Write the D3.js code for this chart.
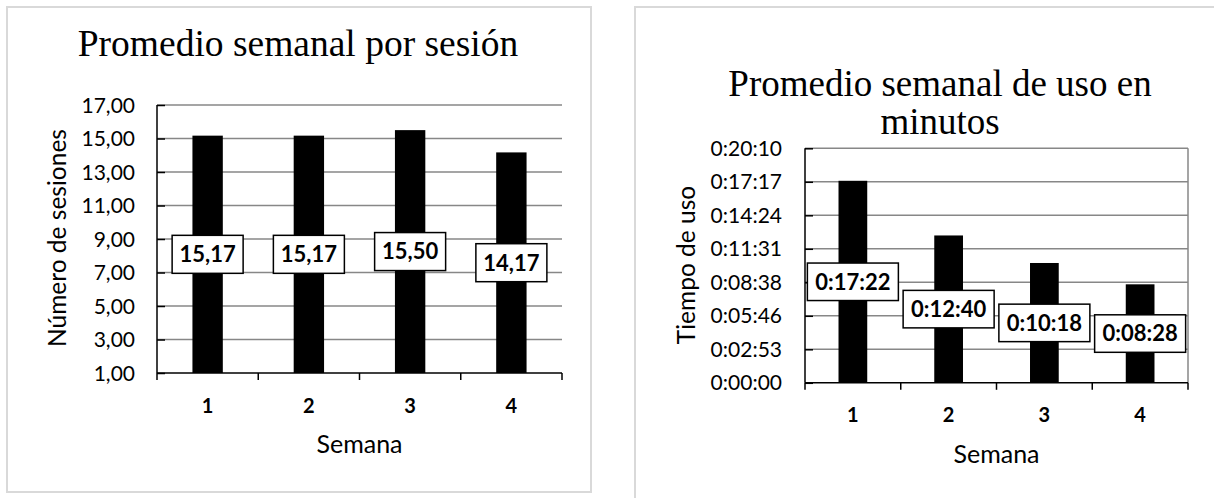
<!DOCTYPE html>
<html>
<head>
<meta charset="utf-8">
<script src="https://cdn.jsdelivr.net/npm/d3@7/dist/d3.min.js"></script>
<style>
  html, body { margin: 0; padding: 0; background: #ffffff; }
  svg { display: block; }
</style>
</head>
<body>
<svg id="chart" width="1214" height="498"></svg>
<script>
// ---------- DATA ----------
const weeks = ["1", "2", "3", "4"];

// Chart 1: average sessions per week
const sessionsTitle = "Promedio semanal por sesión";
const sessionsValues = [15.17, 15.17, 15.50, 14.17];
const sessionsTicks = [1, 3, 5, 7, 9, 11, 13, 15, 17];
const sessionsYLabel = "Número de sesiones";

// Chart 2: average weekly usage time (h:mm:ss)
const usageTitleLines = ["Promedio semanal de uso en", "minutos"];
const usageValues = ["0:17:22", "0:12:40", "0:10:18", "0:08:28"];
const usageTickLabels = ["0:00:00", "0:02:53", "0:05:46", "0:08:38", "0:11:31", "0:14:24", "0:17:17", "0:20:10"];
const usageTickSeconds = [0, 172.8, 345.6, 518.4, 691.2, 864, 1036.8, 1209.6];
const usageYLabel = "Tiempo de uso";

const xLabel = "Semana";

// ---------- HELPERS ----------
const toSec = s => { const p = s.split(":").map(Number); return p[0] * 3600 + p[1] * 60 + p[2]; };
const commaFmt = v => d3.format(".2f")(v).replace(".", ",");

const SANS = "Lato, 'Open Sans', sans-serif";
const SERIF = "'Liberation Serif', 'Times New Roman', serif";
const GRID = "#878787";

const svg = d3.select("#chart");

function drawChart(cfg) {
  const g = svg.append("g");
  // outer frame
  g.append("rect")
    .attr("x", cfg.frame[0]).attr("y", cfg.frame[1])
    .attr("width", cfg.frame[2]).attr("height", cfg.frame[3])
    .attr("fill", "#fff").attr("stroke", "#d9d9d9").attr("stroke-width", 2);

  // title
  cfg.titleLines.forEach((t, i) => {
    g.append("text")
      .attr("x", cfg.titleX).attr("y", cfg.titleY + i * cfg.titleLH)
      .attr("text-anchor", "middle")
      .attr("font-family", SERIF).attr("font-size", cfg.titleSize)
      .attr("fill", "#000").text(t);
  });

  const [x0, x1, yTop, yBot] = cfg.plot;
  const x = d3.scaleBand().domain(weeks).range([x0, x1]).paddingInner(0.7).paddingOuter(0.35);
  const y = d3.scaleLinear().domain(cfg.yDomain).range([yBot, yTop]);

  // gridlines
  g.append("g").selectAll("line").data(cfg.ticks.slice(1)).join("line")
    .attr("x1", x0).attr("x2", x1)
    .attr("y1", d => y(d)).attr("y2", d => y(d))
    .attr("stroke", GRID).attr("stroke-width", 1.5);

  if (cfg.rightBorder) {
    g.append("line").attr("x1", x1).attr("x2", x1).attr("y1", yTop).attr("y2", yBot)
      .attr("stroke", GRID).attr("stroke-width", 1.5);
  }

  // bars
  g.append("g").selectAll("rect").data(cfg.values).join("rect")
    .attr("x", (d, i) => x(weeks[i]))
    .attr("width", x.bandwidth())
    .attr("y", d => y(d))
    .attr("height", d => y(cfg.yDomain[0]) - y(d))
    .attr("fill", "#000");

  // y axis (inside ticks)
  const yAxis = d3.axisRight(y).tickValues(cfg.ticks).tickSize(8).tickFormat("");
  const ya = g.append("g").attr("transform", `translate(${x0},0)`).call(yAxis);
  ya.select(".domain").attr("stroke", "#000").attr("stroke-width", 1.5).attr("d", `M0,${yTop}V${yBot}`);
  ya.selectAll(".tick line").attr("stroke", "#000").attr("stroke-width", 1.5);

  // y tick labels
  g.append("g").selectAll("text").data(cfg.ticks).join("text")
    .attr("x", x0 - cfg.tickGap).attr("y", d => y(d)).attr("dy", "0.36em")
    .attr("text-anchor", "end")
    .attr("font-family", SANS).attr("font-size", cfg.tickSize).attr("fill", "#000")
    .text((d, i) => cfg.tickFormat(d, i));

  // x axis
  const xa = g.append("g");
  xa.append("line").attr("x1", x0).attr("x2", x1).attr("y1", yBot).attr("y2", yBot)
    .attr("stroke", "#000").attr("stroke-width", 1.5);
  const bounds = weeks.map(w => x(w) + x.bandwidth() / 2 - x.step() / 2).concat([x1]);
  xa.selectAll("line.t").data(bounds).join("line").attr("class", "t")
    .attr("x1", d => d).attr("x2", d => d).attr("y1", yBot).attr("y2", yBot + 7)
    .attr("stroke", "#000").attr("stroke-width", 1.5);
  xa.selectAll("text").data(weeks).join("text")
    .attr("x", d => x(d) + x.bandwidth() / 2).attr("y", cfg.catY)
    .attr("text-anchor", "middle")
    .attr("font-family", SANS).attr("font-weight", "bold").attr("font-size", 20)
    .attr("fill", "#000").text(d => d);

  // x title
  g.append("text").attr("x", (x0 + x1) / 2).attr("y", cfg.xTitleY)
    .attr("text-anchor", "middle").attr("font-family", SANS).attr("font-size", 25)
    .attr("fill", "#000").text(xLabel);

  // y title
  g.append("text")
    .attr("transform", `translate(${cfg.yTitlePos[0]},${cfg.yTitlePos[1]}) rotate(-90)`)
    .attr("text-anchor", "middle").attr("dy", "0.35em")
    .attr("font-family", SANS).attr("font-size", 24.5).attr("fill", "#000")
    .text(cfg.yLabel);

  // data labels (inside center)
  const lab = g.append("g").selectAll("g").data(cfg.values).join("g")
    .attr("transform", (d, i) => `translate(${x(weeks[i]) + x.bandwidth() / 2},${y((d + cfg.yDomain[0]) / 2)})`);
  lab.append("rect")
    .attr("x", -cfg.boxW / 2).attr("y", -cfg.boxH / 2)
    .attr("width", cfg.boxW).attr("height", cfg.boxH)
    .attr("fill", "#fff").attr("stroke", "#000").attr("stroke-width", 1.5);
  lab.append("text").attr("text-anchor", "middle").attr("dy", "0.36em")
    .attr("font-family", SANS).attr("font-weight", "bold").attr("font-size", 22)
    .attr("fill", "#000").text((d, i) => cfg.labels[i]);
}

drawChart({
  frame: [7, 7, 584, 485],
  titleLines: [sessionsTitle], titleX: 298, titleY: 56, titleLH: 0, titleSize: 37.5,
  plot: [157, 562, 105, 373],
  yDomain: [1, 17],
  ticks: sessionsTicks,
  tickFormat: d => commaFmt(d),
  tickGap: 22, tickSize: 21,
  values: sessionsValues,
  labels: sessionsValues.map(commaFmt),
  boxW: 71, boxH: 38,
  catY: 413, xTitleY: 453,
  yTitlePos: [57, 238], yLabel: sessionsYLabel,
  rightBorder: false
});

const usageSec = usageValues.map(toSec);
drawChart({
  frame: [635, 7, 600, 500],
  titleLines: usageTitleLines, titleX: 940, titleY: 96, titleLH: 38, titleSize: 37,
  plot: [805, 1188, 148.3, 382.8],
  yDomain: [0, usageTickSeconds[usageTickSeconds.length - 1]],
  ticks: usageTickSeconds,
  tickFormat: (d, i) => usageTickLabels[i],
  tickGap: 23, tickSize: 21,
  values: usageSec,
  labels: usageValues,
  boxW: 91, boxH: 37.5,
  catY: 422, xTitleY: 463,
  yTitlePos: [686, 265], yLabel: usageYLabel,
  rightBorder: true
});
</script>
</body>
</html>
